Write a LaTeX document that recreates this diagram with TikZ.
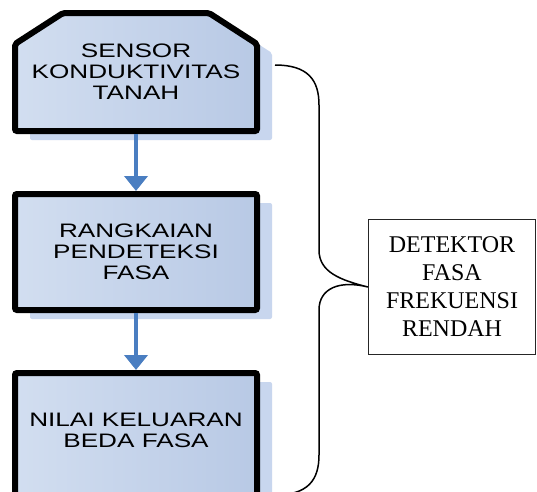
\documentclass[tikz,border=0pt]{standalone}
\usepackage{fontspec}
\setmainfont{Liberation Serif}
\newfontfamily\kotakfont[FakeStretch=1.34]{Liberation Sans}
\usetikzlibrary{arrows.meta,shadows,backgrounds}
\definecolor{kotakterang}{RGB}{210,222,240}
\definecolor{kotakgelap}{RGB}{184,201,229}
\definecolor{bayang}{RGB}{200,214,238}
\definecolor{panahbiru}{RGB}{74,126,193}
\tikzset{
  kotak/.style={draw=black,line width=6pt,rounded corners=2pt,
    left color=kotakterang,right color=kotakgelap,
    minimum width=242pt,align=center,
    font=\kotakfont\fontsize{19.5}{21}\selectfont,
    drop shadow={shadow xshift=15pt,shadow yshift=-9pt,fill=bayang,opacity=1}},
  panah/.style={draw=panahbiru,line width=4pt,-{Triangle[width=23pt,length=15pt]}}
}
\begin{document}
\begin{tikzpicture}[x=1pt,y=-1pt]
    \clip (0,0) rectangle (537,491);
    % blok-blok di kiri
    \node [minimum width=242pt,minimum height=118pt,outer sep=3pt,align=center,
           font=\kotakfont\fontsize{19.5}{21}\selectfont] (sensor) at (136,72) {SENSOR\\KONDUKTIVITAS\\TANAH};
    \begin{scope}[on background layer]
        \fill [white] (0,0) rectangle (537,491);
        \path [kotak] (15,131) -- (15,44) -- (63,13) -- (209,13) -- (257,44) -- (257,131) -- cycle;
    \end{scope}
    \node [kotak,rectangle,minimum height=116pt] (rangkaian) at (136,252) {RANGKAIAN\\PENDETEKSI\\FASA};
    \node [kotak,rectangle,minimum height=122pt] (nilai) at (136,434) {};
    \node [font=\kotakfont\fontsize{19.5}{21}\selectfont,align=center] (nilaiteks) at (136,430) {NILAI KELUARAN\\BEDA FASA};
    \draw [panah] (sensor) -- (rangkaian);
    \draw [panah] (rangkaian) -- (nilai);
    % kotak keterangan dan kurung kurawal
    \node [draw=black!85,line width=1.2pt,fill=white,minimum width=167pt,minimum height=135pt,
           align=center,font=\fontsize{24}{28}\selectfont] (detektor) at (452,287) {DETEKTOR\\FASA\\FREKUENSI\\RENDAH};
    \coordinate (atas) at (275,65);
    \coordinate (bawah) at (275,495);
    \draw [line width=1.5pt] (atas) .. controls (308,65) and (319,80) .. (319,105) -- (319,250)
        .. controls (319,272) and (340,280) .. (detektor.west)
        .. controls (340,280) and (319,288) .. (319,310) -- (319,455)
        .. controls (319,480) and (308,495) .. (bawah);
\end{tikzpicture}
\end{document}
